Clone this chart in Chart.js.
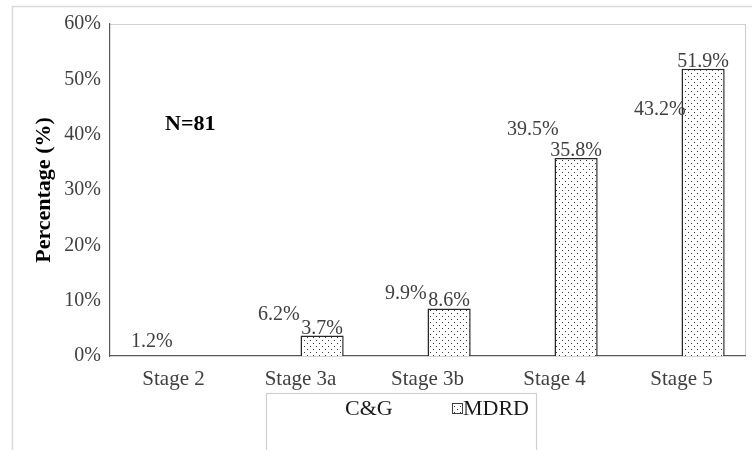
<!DOCTYPE html>
<html><head><meta charset="utf-8">
<script src="https://cdn.jsdelivr.net/npm/chart.js@4"></script>
<style>html,body{margin:0;padding:0;background:#fff}#wrap{width:752px;height:450px}</style>
</head><body><div id="wrap"><canvas id="c" width="752" height="450"></canvas></div>
<script>
const categories = ['Stage 2', 'Stage 3a', 'Stage 3b', 'Stage 4', 'Stage 5'];
const seriesNames = ['C&G', 'MDRD'];
const cgValues = [1.2, 6.2, 9.9, 39.5, 43.2];
const mdrdValues = [null, 3.7, 8.6, 35.8, 51.9];
const yTickValues = [0, 10, 20, 30, 40, 50, 60];
const annotationText = 'N=81';
const yTitle = 'Percentage (%)';

const FONT = "'Liberation Serif', 'Times New Roman', serif";
const canvas = document.getElementById('c');
const ctx0 = canvas.getContext('2d');

function dotPattern() {
  const p = document.createElement('canvas');
  p.width = 6; p.height = 6;
  const g = p.getContext('2d');
  g.fillStyle = '#ffffff'; g.fillRect(0, 0, 6, 6);
  g.fillStyle = '#3a3a3a';
  g.fillRect(1, 1, 1, 1);
  g.fillRect(4, 4, 1, 1);
  return ctx0.createPattern(p, 'repeat');
}
const pattern = dotPattern();

const framePlugin = {
  id: 'frame',
  beforeDraw(chart) {
    const c = chart.ctx, a = chart.chartArea;
    c.save();
    c.fillStyle = '#fff';
    c.fillRect(0, 0, chart.width, chart.height);
    c.strokeStyle = '#d9d9d9'; c.lineWidth = 1.5;
    c.beginPath();
    c.moveTo(12.5, chart.height); c.lineTo(12.5, 6.5); c.lineTo(chart.width, 6.5);
    c.stroke();
    c.strokeStyle = '#d0d0d0'; c.lineWidth = 1.2;
    c.beginPath();
    c.moveTo(a.left, a.top + 0.5); c.lineTo(a.right + 0.5, a.top + 0.5); c.lineTo(a.right + 0.5, a.bottom);
    c.stroke();
    c.restore();
  },
  afterDraw(chart) {
    const c = chart.ctx, a = chart.chartArea;
    c.save();
    c.font = '20px ' + FONT;
    c.fillStyle = '#404040';
    c.textAlign = 'center';
    c.textBaseline = 'alphabetic';
    chart.data.datasets.forEach((ds, di) => {
      const meta = chart.getDatasetMeta(di);
      meta.data.forEach((el, i) => {
        const v = ds.data[i];
        if (v === null || v === undefined) return;
        c.fillText(v.toFixed(1) + '%', el.x, el.y - 2);
      });
    });
    c.font = 'bold 22px ' + FONT;
    c.fillStyle = '#000';
    c.textAlign = 'left';
    c.textBaseline = 'middle';
    c.fillText(annotationText, a.left + 55, chart.scales.y.getPixelForValue(41.8));
    const lx = 266, ly = 393;
    c.strokeStyle = '#d0d0d0'; c.lineWidth = 1.2;
    c.strokeRect(lx + 0.5, ly + 0.5, 270, 80);
    c.font = '22px ' + FONT;
    c.fillStyle = '#1a1a1a';
    c.textBaseline = 'middle';
    c.textAlign = 'left';
    const ty = ly + 16;
    c.fillText(chart.data.datasets[0].label, lx + 79, ty);
    c.fillStyle = pattern;
    c.fillRect(lx + 186, ty - 6, 11, 11);
    c.strokeStyle = '#404040'; c.lineWidth = 1;
    c.strokeRect(lx + 186.5, ty - 5.5, 10, 10);
    c.fillStyle = '#1a1a1a';
    c.fillText(chart.data.datasets[1].label, lx + 197, ty);
    c.restore();
  }
};

new Chart(canvas, {
  type: 'bar',
  data: {
    labels: categories,
    datasets: [
      { label: seriesNames[0], data: cgValues, backgroundColor: 'rgba(255,255,255,0)', borderWidth: 0 },
      { label: seriesNames[1], data: mdrdValues, backgroundColor: pattern, borderColor: '#262626', borderWidth: 1.5 }
    ]
  },
  options: {
    responsive: false,
    devicePixelRatio: 1,
    animation: false,
    layout: { padding: { left: 12, top: 24, right: 7, bottom: 58 } },
    datasets: { bar: { categoryPercentage: 0.68, barPercentage: 1.0 } },
    plugins: { legend: { display: false }, tooltip: { enabled: false } },
    scales: {
      x: {
        grid: { display: false, drawTicks: false },
        border: { display: true, color: '#595959', width: 1.2 },
        ticks: { font: { size: 21, family: FONT }, color: '#404040', padding: 11 },
        afterFit(s) { s.height = 36; }
      },
      y: {
        min: 0, max: 60,
        afterBuildTicks(s) { s.ticks = yTickValues.map(v => ({ value: v })); },
        grid: { display: false, drawTicks: false },
        border: { display: true, color: '#595959', width: 1.2 },
        ticks: { font: { size: 20, family: FONT }, color: '#404040', padding: 9, callback: v => v + '%' },
        title: { display: true, text: yTitle, font: { size: 22, weight: 'bold', family: FONT }, color: '#000', padding: { top: 19, bottom: 0 } },
        afterFit(s) { s.width = 98; }
      }
    }
  },
  plugins: [framePlugin]
});
</script>
</body></html>
